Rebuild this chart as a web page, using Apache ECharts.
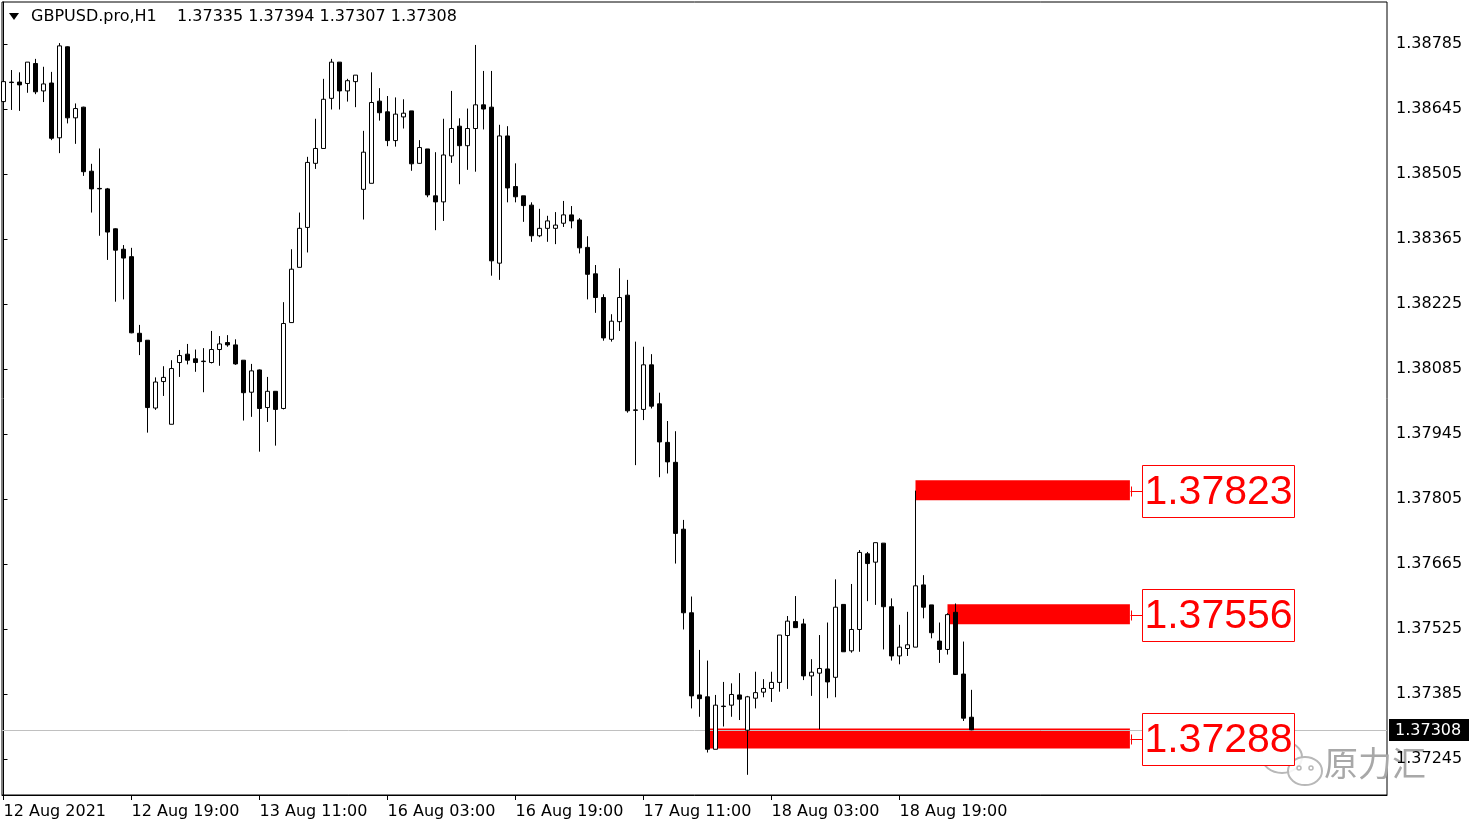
<!DOCTYPE html>
<html><head><meta charset="utf-8">
<script src="https://cdn.jsdelivr.net/npm/echarts@6/dist/echarts.min.js"></script>
<style>html,body{margin:0;padding:0;background:#fff}#c{width:1479px;height:827px}</style>
</head><body><div id="c"></div>
<script>
// ---- data ----
const symbolName = 'GBPUSD.pro,H1';
const tickIndex = [0, 16, 32, 48, 64, 80, 96, 112];
const tickLabels = ['12 Aug 2021', '12 Aug 19:00', '13 Aug 11:00', '16 Aug 03:00', '16 Aug 19:00', '17 Aug 11:00', '18 Aug 03:00', '18 Aug 19:00'];
const priceTicks = [1.37245, 1.37385, 1.37525, 1.37665, 1.37805, 1.37945, 1.38085, 1.38225, 1.38365, 1.38505, 1.38645, 1.38785];

const opens = [1.38661,1.38703,1.38703,1.38700,1.38743,1.38684,1.38701,1.38583,1.38779,1.38626,
1.38649,1.38511,1.38474,1.38473,1.38387,1.38343,1.38327,1.38162,1.38147,1.38001,
1.38058,1.37966,1.38099,1.38117,1.38107,1.38102,1.38099,1.38127,1.38142,1.38137,
1.38104,1.38035,1.38083,1.38002,1.38037,1.38000,1.38185,1.38304,1.38390,1.38528,
1.38560,1.38668,1.38746,1.38684,1.38704,1.38472,1.38485,1.38662,1.38639,1.38577,
1.38628,1.38641,1.38528,1.38559,1.38458,1.38445,1.38544,1.38608,1.38566,1.38603,
1.38654,1.38649,1.38313,1.38587,1.38478,1.38458,1.38438,1.38372,1.38388,1.38388,
1.38399,1.38417,1.38406,1.38347,1.38290,1.38239,1.38149,1.38187,1.38244,1.37997,
1.37998,1.38094,1.38010,1.37927,1.37884,1.37740,1.37560,1.37383,1.37379,1.37266,
1.37359,1.37361,1.37383,1.37307,1.37376,1.37389,1.37397,1.37410,1.37511,1.37541,
1.37536,1.37424,1.37430,1.37439,1.37421,1.37578,1.37478,1.37524,1.37687,1.37669,
1.37710,1.37573,1.37467,1.37483,1.37486,1.37620,1.37577,1.37499,1.37481,1.37561,
1.37428,1.37335];
const highs = [1.38738,1.38729,1.38724,1.38746,1.38753,1.38736,1.38725,1.38787,1.38780,1.38657,
1.38650,1.38527,1.38560,1.38475,1.38388,1.38352,1.38346,1.38180,1.38147,1.38067,
1.38091,1.38104,1.38126,1.38139,1.38127,1.38130,1.38167,1.38156,1.38158,1.38149,
1.38104,1.38096,1.38084,1.38068,1.38037,1.38229,1.38343,1.38422,1.38542,1.38624,
1.38710,1.38753,1.38746,1.38710,1.38718,1.38598,1.38724,1.38690,1.38673,1.38670,
1.38666,1.38641,1.38578,1.38559,1.38552,1.38624,1.38684,1.38625,1.38646,1.38783,
1.38727,1.38727,1.38611,1.38608,1.38528,1.38458,1.38444,1.38430,1.38415,1.38423,
1.38447,1.38436,1.38410,1.38371,1.38309,1.38246,1.38203,1.38302,1.38277,1.38144,
1.38133,1.38117,1.38034,1.37973,1.37951,1.37760,1.37595,1.37480,1.37457,1.37383,
1.37411,1.37408,1.37430,1.37381,1.37433,1.37417,1.37433,1.37512,1.37553,1.37596,
1.37547,1.37460,1.37512,1.37539,1.37632,1.37578,1.37622,1.37695,1.37691,1.37711,
1.37710,1.37591,1.37534,1.37562,1.37823,1.37641,1.37577,1.37539,1.37559,1.37580,
1.37498,1.37394];
const lows = [1.38654,1.38643,1.38641,1.38680,1.38677,1.38660,1.38578,1.38550,1.38614,1.38570,
1.38501,1.38422,1.38372,1.38320,1.38230,1.38235,1.38162,1.38115,1.37948,1.37997,
1.38027,1.37966,1.38068,1.38095,1.38079,1.38035,1.38097,1.38092,1.38133,1.38094,
1.37974,1.37982,1.37907,1.37971,1.37920,1.37998,1.38185,1.38304,1.38336,1.38516,
1.38560,1.38644,1.38644,1.38661,1.38649,1.38407,1.38485,1.38620,1.38565,1.38564,
1.38603,1.38512,1.38527,1.38455,1.38384,1.38404,1.38529,1.38483,1.38514,1.38510,
1.38601,1.38286,1.38277,1.38444,1.38444,1.38402,1.38359,1.38369,1.38359,1.38354,
1.38391,1.38388,1.38334,1.38235,1.38206,1.38146,1.38144,1.38167,1.37991,1.37878,
1.37975,1.38000,1.37852,1.37860,1.37666,1.37524,1.37354,1.37336,1.37259,1.37266,
1.37315,1.37336,1.37329,1.37211,1.37354,1.37378,1.37368,1.37390,1.37396,1.37528,
1.37415,1.37381,1.37309,1.37376,1.37378,1.37476,1.37474,1.37476,1.37585,1.37577,
1.37481,1.37457,1.37449,1.37467,1.37486,1.37548,1.37505,1.37452,1.37470,1.37427,
1.37327,1.37307];
const closes = [1.38704,1.38702,1.38697,1.38746,1.38682,1.38699,1.38582,1.38781,1.38626,1.38646,
1.38510,1.38473,1.38473,1.38380,1.38341,1.38324,1.38163,1.38144,1.38002,1.38057,
1.38067,1.38086,1.38114,1.38104,1.38099,1.38101,1.38127,1.38139,1.38137,1.38096,
1.38034,1.38081,1.38000,1.38037,1.37998,1.38183,1.38300,1.38388,1.38530,1.38560,
1.38666,1.38746,1.38684,1.38706,1.38718,1.38552,1.38659,1.38637,1.38577,1.38634,
1.38636,1.38527,1.38562,1.38460,1.38445,1.38546,1.38603,1.38566,1.38603,1.38654,
1.38645,1.38318,1.38587,1.38475,1.38456,1.38437,1.38372,1.38388,1.38404,1.38395,
1.38417,1.38404,1.38346,1.38289,1.38239,1.38152,1.38188,1.38239,1.37995,1.37996,
1.38094,1.38005,1.37928,1.37885,1.37731,1.37560,1.37381,1.37375,1.37266,1.37361,
1.37358,1.37384,1.37374,1.37379,1.37388,1.37397,1.37410,1.37512,1.37542,1.37528,
1.37424,1.37432,1.37440,1.37411,1.37572,1.37476,1.37524,1.37690,1.37666,1.37711,
1.37573,1.37467,1.37486,1.37491,1.37618,1.37572,1.37517,1.37481,1.37556,1.37427,
1.37333,1.37308];

const levelPrices = [1.37823, 1.37556, 1.37288];
const levelStart = [114, 118, 88];
const currentPrice = 1.37308;
const watermarkText = '原力汇';

// ---- layout constants ----
const LEVEL_END = 140.8;
const FONT = '"DejaVu Sans", Verdana, sans-serif';

const candleData = opens.map((o, i) => [i, o, closes[i], lows[i], highs[i]]);
const levelData = levelPrices.map((p, i) => [levelStart[i], p]);
const n = opens.length;

const chart = echarts.init(document.getElementById('c'), null, {renderer: 'canvas'});

function renderBand(params, api) {
  const start = api.value(0), price = api.value(1);
  const p0 = api.coord([start, price]);
  const p1 = api.coord([LEVEL_END, price]);
  return {type: 'rect', shape: {x: p0[0], y: p0[1] - 10.5, width: p1[0] - p0[0], height: 20},
          style: {fill: '#ff0000'}};
}
function renderLabel(params, api) {
  const price = api.value(1);
  const e = api.coord([LEVEL_END, price]);
  const x = Math.round(e[0]) + 0.5, y = Math.round(e[1]) + 0.5;
  const bx = x + 12;
  return {type: 'group', children: [
    {type: 'line', shape: {x1: x, y1: y, x2: bx, y2: y}, style: {stroke: '#ff0000', lineWidth: 1}},
    {type: 'line', shape: {x1: x + 1, y1: y - 5, x2: x + 1, y2: y + 5}, style: {stroke: '#ff0000', lineWidth: 1}},
    {type: 'rect', shape: {x: bx, y: y - 26, width: 152, height: 52}, style: {fill: '#ffffff', stroke: '#ff0000', lineWidth: 1}},
    {type: 'text', x: bx + 76, y: y + 1, style: {text: price.toFixed(5), fill: '#ff0000', fontSize: 41,
      fontFamily: '"Liberation Sans", Arial, sans-serif', align: 'center', verticalAlign: 'middle'}}
  ]};
}
function renderCurrent(params, api) {
  const price = api.value(1);
  const cs = params.coordSys;
  const y = Math.round(api.coord([0, price])[1]) + 0.5;
  const right = cs.x + cs.width;
  return {type: 'group', children: [
    {type: 'line', shape: {x1: cs.x, y1: y, x2: right, y2: y}, style: {stroke: '#c0c0c0', lineWidth: 1}},
    {type: 'rect', shape: {x: right + 2, y: y - 11.5, width: 80, height: 22}, style: {fill: '#000000'}},
    {type: 'text', x: right + 8, y: y, style: {text: price.toFixed(5), fill: '#ffffff', fontSize: 16,
      fontFamily: FONT, verticalAlign: 'middle'}}
  ]};
}

const option = {
  backgroundColor: '#ffffff',
  animation: false,
  grid: {left: 2, right: 92, top: 2, bottom: 32, show: true, borderColor: '#000', borderWidth: 1, backgroundColor: 'transparent'},
  xAxis: {
    type: 'value', min: -0.1875, max: 172.9375,
    splitLine: {show: false},
    axisLine: {show: true, lineStyle: {color: '#000', width: 1}},
    axisTick: {show: true, customValues: tickIndex, length: 5, lineStyle: {color: '#000'}},
    axisLabel: {show: true, customValues: tickIndex, align: 'left', margin: 9,
      color: '#000', fontSize: 16, fontFamily: FONT,
      formatter: v => tickLabels[tickIndex.indexOf(Math.round(v))] || ''}
  },
  yAxis: {
    type: 'value', position: 'right', min: 1.371675, max: 1.388755,
    splitLine: {show: false},
    axisLine: {show: true, lineStyle: {color: '#000', width: 1}},
    axisTick: {show: true, customValues: priceTicks, length: 4, lineStyle: {color: '#000'}},
    axisLabel: {show: true, customValues: priceTicks, margin: 9, color: '#000', fontSize: 16, fontFamily: FONT,
      formatter: v => v.toFixed(5)}
  },
  series: [
    {type: 'custom', name: 'bands', z: 1, data: levelData, renderItem: renderBand, silent: true,
     encode: {x: 0, y: 1}},
    {type: 'custom', name: 'current', z: 2, data: [[0, currentPrice]], renderItem: renderCurrent, silent: true,
     clip: false, encode: {x: 0, y: 1}},
    {type: 'candlestick', name: symbolName, z: 3, data: candleData, barWidth: 4,
     itemStyle: {color: '#ffffff', color0: '#000000', borderColor: '#000000', borderColor0: '#000000', borderWidth: 1}},
    {type: 'custom', name: 'labels', z: 4, data: levelData, renderItem: renderLabel, silent: true,
     encode: {x: 0, y: 1}}
  ],
  graphic: [
    {type: 'polygon', z: 10, shape: {points: [[9, 13], [19, 13], [14, 20]]}, style: {fill: '#000'}},
    {type: 'text', z: 10, x: 31, y: 17, style: {text: symbolName, fill: '#000', fontSize: 16, fontFamily: FONT, verticalAlign: 'middle'}},
    {type: 'text', z: 10, x: 177, y: 17, style: {text: [opens[n-1], highs[n-1], lows[n-1], closes[n-1]].map(v => v.toFixed(5)).join(' '),
      fill: '#000', fontSize: 16, fontFamily: FONT, verticalAlign: 'middle'}},
    // watermark
    {type: 'group', z: 20, silent: true, children: [
      {type: 'ellipse', shape: {cx: 1282, cy: 757, rx: 20, ry: 16}, style: {fill: 'rgba(255,255,255,0.65)', stroke: '#b8b8b8', lineWidth: 2}},
      {type: 'circle', shape: {cx: 1275, cy: 753, r: 2.5}, style: {fill: 'none', stroke: '#b8b8b8', lineWidth: 1.5}},
      {type: 'circle', shape: {cx: 1289, cy: 753, r: 2.5}, style: {fill: 'none', stroke: '#b8b8b8', lineWidth: 1.5}},
      {type: 'ellipse', shape: {cx: 1305, cy: 771, rx: 17, ry: 14}, style: {fill: 'rgba(255,255,255,0.85)', stroke: '#b8b8b8', lineWidth: 2}},
      {type: 'circle', shape: {cx: 1299, cy: 768, r: 2}, style: {fill: 'none', stroke: '#b8b8b8', lineWidth: 1.5}},
      {type: 'circle', shape: {cx: 1311, cy: 768, r: 2}, style: {fill: 'none', stroke: '#b8b8b8', lineWidth: 1.5}},
      {type: 'text', x: 1324, y: 763, style: {text: watermarkText, fill: '#a8a8a8', fontSize: 34,
        fontFamily: '"Noto Sans CJK SC", sans-serif', verticalAlign: 'middle'}}
    ]}
  ]
};
chart.setOption(option);
</script>
</body></html>
